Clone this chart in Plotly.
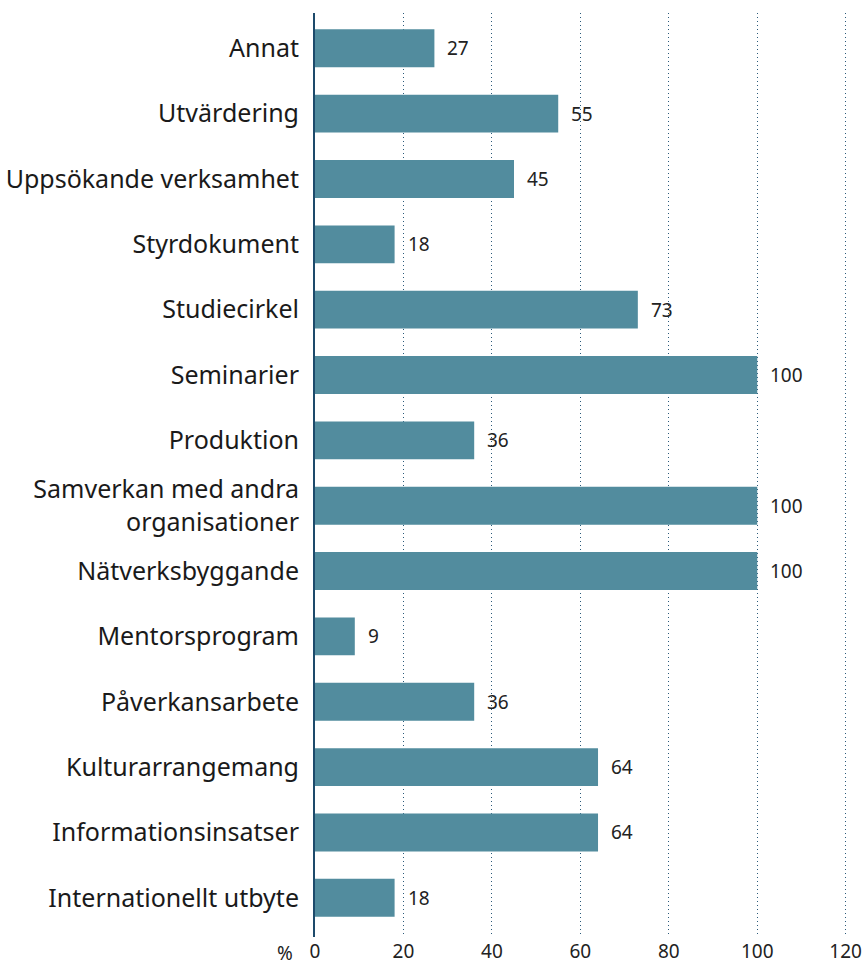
import plotly.graph_objects as go

categories = ["Annat", "Utvärdering", "Uppsökande verksamhet", "Styrdokument",
              "Studiecirkel", "Seminarier", "Produktion",
              "Samverkan med andra<br>organisationer", "Nätverksbyggande",
              "Mentorsprogram", "Påverkansarbete", "Kulturarrangemang",
              "Informationsinsatser", "Internationellt utbyte"]
values = [27, 55, 45, 18, 73, 100, 36, 100, 100, 9, 36, 64, 64, 18]
x_ticks = [0, 20, 40, 60, 80, 100, 120]

FONT = "Noto Sans"
fig = go.Figure()
fig.add_trace(go.Bar(
    y=categories, x=values, orientation="h",
    marker=dict(color="#528c9e", line=dict(width=0)),
    hoverinfo="skip",
))

for c, v in zip(categories, values):
    fig.add_annotation(x=v, y=c, text=str(v), showarrow=False,
                       xanchor="left", yanchor="middle", xshift=11,
                       font=dict(family=FONT, size=19, color="#222222"))

fig.add_annotation(xref="paper", yref="paper", x=0, y=0, text="%",
                   showarrow=False, xanchor="right", yanchor="middle",
                   xshift=-20, yshift=-16,
                   font=dict(family=FONT, size=19, color="#222222"))

fig.update_layout(
    width=862, height=960,
    margin=dict(l=315, r=15, t=13, b=23),
    paper_bgcolor="white", plot_bgcolor="white",
    bargap=0.42, showlegend=False,
    font=dict(family=FONT, color="#222222"),
)
fig.update_xaxes(
    range=[0, 120.3], tickvals=x_ticks, ticktext=[str(t) for t in x_ticks],
    showgrid=True, gridcolor="#2b5a7a", griddash="1px,3px", gridwidth=1,
    zeroline=False, showline=False, ticks="",
    tickfont=dict(family=FONT, size=19, color="#222222"),
    ticklabelstandoff=1, automargin=False,
)
fig.update_yaxes(
    categoryorder="array", categoryarray=categories,
    range=[13.6, -0.54],
    showgrid=False, zeroline=False,
    showline=True, linecolor="#1d4a6b", linewidth=2,
    ticks="", ticklabelstandoff=9, automargin=False,
    tickfont=dict(family=FONT, size=25, color="#1a1a1a"),
)

fig.write_html("out.html", config={"displayModeBar": False},
               post_script="document.body.style.margin='0';")
